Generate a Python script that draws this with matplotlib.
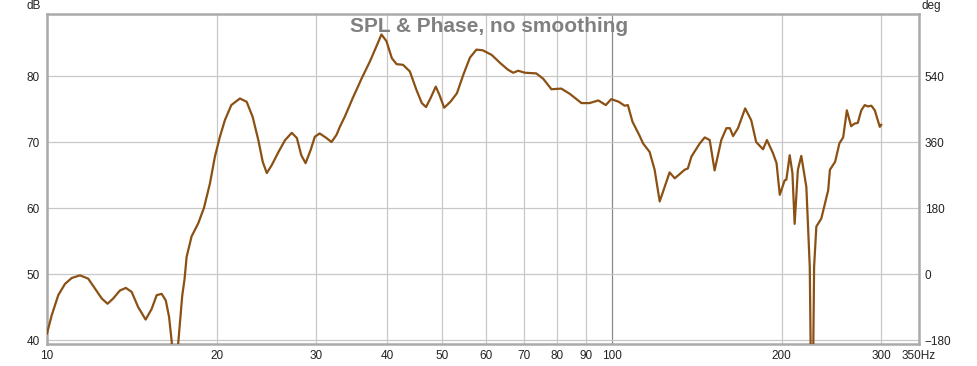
import numpy as np
import matplotlib
matplotlib.use("Agg")
import matplotlib.pyplot as plt
from matplotlib.ticker import FixedLocator, NullLocator

plt.rcParams['font.family'] = ['Liberation Sans', 'DejaVu Sans']

# SPL curve (Hz, dB)
freq = [10.0, 10.19, 10.47, 10.76, 11.06, 11.44, 11.83, 12.16, 12.5, 12.8,
        13.1, 13.46, 13.79, 14.12, 14.5, 14.95, 15.32, 15.64, 15.96, 16.23,
        16.45, 16.63, 16.85, 17.07, 17.36, 17.52, 17.67, 18.03, 18.53, 18.96,
        19.43, 19.83, 20.24, 20.65, 21.2, 21.96, 22.57, 23.13, 23.67, 24.1,
        24.5, 25.0, 25.7, 26.4, 27.13, 27.7, 28.2, 28.7, 29.3, 29.8,
        30.4, 31.26, 31.9, 32.56, 33.0, 33.7, 34.8, 36.1, 37.3, 38.4,
        39.1, 39.9, 40.8, 41.6, 42.7, 43.9, 45.1, 46.1, 46.9, 47.8,
        48.8, 49.5, 50.5, 51.8, 53.2, 54.6, 56.1, 57.6, 59.1, 61.3,
        63.4, 65.4, 66.9, 68.3, 70.2, 73.5, 75.6, 78.2, 81.4, 84.3,
        88.4, 91.3, 94.7, 97.6, 99.8, 102.9, 105.4, 106.8, 108.8, 112.1,
        113.6, 116.7, 119.1, 121.6, 126.6, 129.3, 134.6, 136.4, 138.4, 143.2,
        146.1, 149.1, 152.1, 156.3, 159.6, 161.9, 164.0, 167.3, 172.3, 176.6,
        180.2, 185.3, 188.3, 193.0, 195.8, 198.4, 202.4, 203.8, 206.6, 208.9,
        210.8, 213.6, 216.6, 221.1, 224.2, 226.3, 228.2, 230.3, 235.0, 241.7,
        243.4, 248.6, 253.0, 256.9, 260.8, 265.4, 269.2, 272.7, 276.6, 280.5,
        284.2, 288.3, 292.3, 298.3, 300.0]
spl = [41.0, 43.7, 46.8, 48.5, 49.4, 49.8, 49.3, 47.8, 46.3, 45.5,
       46.3, 47.5, 47.9, 47.3, 45.0, 43.1, 44.7, 46.8, 47.0, 46.0,
       43.5, 39.7, 30.0, 39.4, 46.8, 49.2, 52.6, 55.7, 57.7, 60.0,
       63.7, 67.8, 70.8, 73.3, 75.6, 76.6, 76.1, 73.8, 70.3, 67.0,
       65.3, 66.5, 68.5, 70.3, 71.4, 70.6, 68.0, 66.8, 68.8, 70.8,
       71.3, 70.6, 70.0, 71.1, 72.3, 73.9, 76.7, 79.7, 82.2, 84.7,
       86.3, 85.3, 82.7, 81.8, 81.7, 80.7, 77.9, 75.9, 75.3, 76.7,
       78.4, 77.2, 75.2, 76.1, 77.4, 80.2, 82.8, 84.0, 83.9, 83.2,
       82.0, 81.0, 80.5, 80.8, 80.5, 80.4, 79.6, 78.0, 78.1, 77.3,
       75.9, 75.9, 76.3, 75.6, 76.5, 76.1, 75.5, 75.6, 73.1, 70.9,
       69.8, 68.5, 65.8, 61.0, 65.4, 64.5, 65.8, 66.0, 67.8, 69.8,
       70.7, 70.3, 65.7, 70.3, 72.1, 72.1, 70.9, 72.1, 75.1, 73.3,
       70.0, 68.9, 70.3, 68.3, 66.8, 62.0, 64.2, 64.3, 68.0, 65.3,
       57.6, 65.8, 67.9, 63.2, 51.1, 20.0, 51.1, 57.2, 58.4, 62.7,
       65.8, 67.0, 69.8, 70.7, 74.8, 72.4, 72.8, 72.9, 74.8, 75.6,
       75.4, 75.5, 74.8, 72.3, 72.6]

x_ticks = [10, 20, 30, 40, 50, 60, 70, 80, 90, 100, 200, 300, 350]
x_labels = ['10', '20', '30', '40', '50', '60', '70', '80', '90', '100', '200', '300', '350Hz']
db_ticks = [40, 50, 60, 70, 80]
deg_ticks = [-180, 0, 180, 360, 540]

fig = plt.figure(figsize=(9.77, 3.66), dpi=100)
ax = fig.add_axes([47 / 977, 22 / 366, 872 / 977, 330 / 366])

ax.set_xscale('log')
ax.set_xlim(10, 350)
ax.set_ylim(39.4, 89.4)

# grid
for f in x_ticks[:-1]:
    c = '#8a8a8a' if f == 100 else '#c8c8c8'
    ax.axvline(f, color=c, lw=0.9, zorder=1)
for d in db_ticks:
    ax.axhline(d, color='#c8c8c8', lw=0.9, zorder=1)

ax.plot(freq, spl, color='#8b5014', lw=1.6, zorder=3, solid_joinstyle='round')

ax.xaxis.set_major_locator(FixedLocator(x_ticks))
ax.xaxis.set_minor_locator(NullLocator())
ax.set_xticklabels(x_labels)
ax.set_yticks(db_ticks)
ax.tick_params(axis='both', length=0, labelsize=8.5, colors='#222222')
ax.tick_params(axis='x', pad=4)
ax.tick_params(axis='y', pad=5)

for s in ax.spines.values():
    s.set_color('#aaaaaa')
    s.set_linewidth(1.8)

ax2 = ax.twinx()
ax2.set_ylim((39.4 - 50) * 18, (89.4 - 50) * 18)
ax2.set_yticks(deg_ticks)
ax2.tick_params(axis='y', length=0, labelsize=8.5, colors='#222222', pad=4)
for s in ax2.spines.values():
    s.set_visible(False)

fig.text(41 / 977, 1 - 6 / 366, 'dB', ha='right', va='center', fontsize=8.5, color='#222222')
fig.text(922 / 977, 1 - 6 / 366, 'deg', ha='left', va='center', fontsize=8.5, color='#222222')
fig.text(489 / 977, 1 - 26 / 366, 'SPL & Phase, no smoothing', ha='center', va='center',
         fontsize=15, fontweight='bold', color='#808080', zorder=5)

fig.savefig('out.png', dpi=100)
